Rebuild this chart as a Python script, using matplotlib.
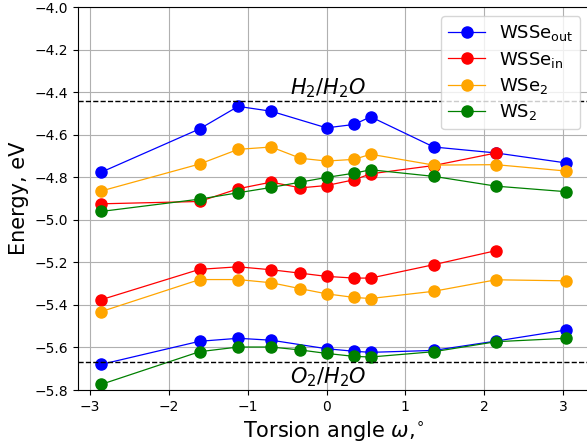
import matplotlib
matplotlib.use("Agg")
import matplotlib.pyplot as plt

# torsion angles
x_out = [-2.86, -1.61, -1.12, -0.70, 0.0, 0.35, 0.56, 1.36, 2.15, 3.04]
x_in = [-2.86, -1.61, -1.12, -0.70, -0.33, 0.0, 0.35, 0.56, 1.36, 2.15]
x_full = [-2.86, -1.61, -1.12, -0.70, -0.33, 0.0, 0.35, 0.56, 1.36, 2.15, 3.04]

# band edges (upper = CBM, lower = VBM)
wsse_out_up = [-4.777, -4.573, -4.467, -4.490, -4.568, -4.552, -4.516, -4.658, -4.686, -4.733]
wsse_out_lo = [-5.680, -5.571, -5.557, -5.566, -5.606, -5.618, -5.623, -5.614, -5.570, -5.518]
wsse_in_up = [-4.925, -4.914, -4.854, -4.823, -4.850, -4.839, -4.812, -4.784, -4.745, -4.686]
wsse_in_lo = [-5.376, -5.233, -5.221, -5.235, -5.251, -5.266, -5.274, -5.274, -5.211, -5.145]
wse2_up = [-4.865, -4.738, -4.669, -4.658, -4.711, -4.724, -4.716, -4.692, -4.743, -4.741, -4.771]
wse2_lo = [-5.432, -5.281, -5.281, -5.296, -5.324, -5.348, -5.365, -5.370, -5.336, -5.282, -5.287]
ws2_up = [-4.961, -4.903, -4.873, -4.848, -4.823, -4.801, -4.781, -4.765, -4.796, -4.842, -4.868]
ws2_lo = [-5.774, -5.620, -5.598, -5.598, -5.612, -5.628, -5.642, -5.645, -5.620, -5.573, -5.557]

h2_level = -4.44
o2_level = -5.67

fig = plt.figure(figsize=(5.87, 4.43), dpi=100)
ax = fig.add_axes([77.7 / 587, 53 / 443, (589.5 - 77.7) / 587, 383 / 443])

ms = 8
lw = 0.9
ax.plot(x_out, wsse_out_up, "o-", color="blue", ms=ms, lw=lw, label=r"WSSe$_{\mathrm{out}}$")
ax.plot(x_out, wsse_out_lo, "o-", color="blue", ms=ms, lw=lw)
ax.plot(x_in, wsse_in_up, "o-", color="red", ms=ms, lw=lw, label=r"WSSe$_{\mathrm{in}}$")
ax.plot(x_in, wsse_in_lo, "o-", color="red", ms=ms, lw=lw)
ax.plot(x_full, wse2_up, "o-", color="orange", ms=ms, lw=lw, label=r"WSe$_2$")
ax.plot(x_full, wse2_lo, "o-", color="orange", ms=ms, lw=lw)
ax.plot(x_full, ws2_up, "o-", color="green", ms=ms, lw=lw, label=r"WS$_2$")
ax.plot(x_full, ws2_lo, "o-", color="green", ms=ms, lw=lw)

ax.axhline(h2_level, color="black", ls="--", lw=1)
ax.axhline(o2_level, color="black", ls="--", lw=1)
ax.text(-0.46, -4.41, r"$H_2/H_2O$", fontsize=15, va="baseline")
ax.text(-0.46, -5.767, r"$O_2/H_2O$", fontsize=15, va="baseline")

ax.set_ylim(-5.8, -4.0)
ax.grid(True)
ax.tick_params(labelsize=10)
ax.set_xlabel(r"Torsion angle $\omega$,$^{\circ}$", fontsize=15)
ax.set_ylabel("Energy, eV", fontsize=15)
ax.legend(loc="upper right", fontsize=13, labelspacing=0.35)

fig.savefig("out.png", dpi=100)
